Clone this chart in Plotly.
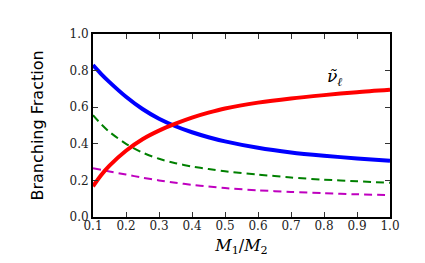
import plotly.graph_objects as go

x_vals = [0.1, 0.125, 0.15, 0.2, 0.25, 0.3, 0.35, 0.4, 0.45, 0.5, 0.6, 0.7, 0.8, 0.9, 1.0]
blue_vals = [0.83, 0.781, 0.737, 0.657, 0.59, 0.537, 0.496, 0.463, 0.436, 0.413, 0.378, 0.353, 0.335, 0.32, 0.308]
red_vals = [0.168, 0.23, 0.281, 0.362, 0.425, 0.472, 0.51, 0.543, 0.57, 0.593, 0.625, 0.648, 0.666, 0.682, 0.695]
green_vals = [0.556, 0.507, 0.465, 0.40, 0.352, 0.318, 0.294, 0.276, 0.262, 0.25, 0.232, 0.216, 0.204, 0.195, 0.187]
magenta_vals = [0.266, 0.258, 0.249, 0.232, 0.215, 0.2, 0.187, 0.176, 0.166, 0.158, 0.146, 0.137, 0.13, 0.124, 0.12]

x_ticks = [0.1, 0.2, 0.3, 0.4, 0.5, 0.6, 0.7, 0.8, 0.9, 1.0]
y_ticks = [0.0, 0.2, 0.4, 0.6, 0.8, 1.0]

fig = go.Figure()
fig.add_trace(go.Scatter(x=x_vals, y=green_vals, mode="lines", line=dict(color="#008000", width=2, dash="8px,5px", shape="spline", smoothing=0.8)))
fig.add_trace(go.Scatter(x=x_vals, y=magenta_vals, mode="lines", line=dict(color="#bf00bf", width=2, dash="8px,5px", shape="spline", smoothing=0.8)))
fig.add_trace(go.Scatter(x=x_vals, y=blue_vals, mode="lines", line=dict(color="#0000ff", width=4, shape="spline", smoothing=0.8)))
fig.add_trace(go.Scatter(x=x_vals, y=red_vals, mode="lines", line=dict(color="#ff0000", width=4, shape="spline", smoothing=0.8)))

fig.add_annotation(x=0.833, y=0.765, text="<i>ν̃</i><sub><i>ℓ</i></sub>", showarrow=False,
                   font=dict(family="DejaVu Serif", size=17, color="black"))

axis_common = dict(showline=True, linecolor="black", linewidth=2, mirror="ticks", ticks="inside",
                   ticklen=5, tickwidth=1, tickcolor="#333", showgrid=False, zeroline=False,
                   tickfont=dict(family="DejaVu Serif", size=12, color="#222"))

fig.update_xaxes(range=[0.1, 1.0], tickvals=x_ticks, ticktext=[f"{v:.1f}" for v in x_ticks],
                 ticklabelstandoff=-3,
                 title=dict(text="<i>M</i><sub>1</sub>/<i>M</i><sub>2</sub>", font=dict(family="DejaVu Serif", size=16, color="black"), standoff=7),
                 **axis_common)
fig.update_yaxes(range=[0.0, 1.0], tickvals=y_ticks, ticktext=[f"{v:.1f}" for v in y_ticks],
                 title=dict(text="Branching Fraction", font=dict(family="DejaVu Sans", size=16, color="black"), standoff=22),
                 **axis_common)

fig.update_layout(width=425, height=263, margin=dict(l=85, r=43, t=26, b=54),
                  paper_bgcolor="white", plot_bgcolor="white", showlegend=False)

fig.write_html("out.html")
